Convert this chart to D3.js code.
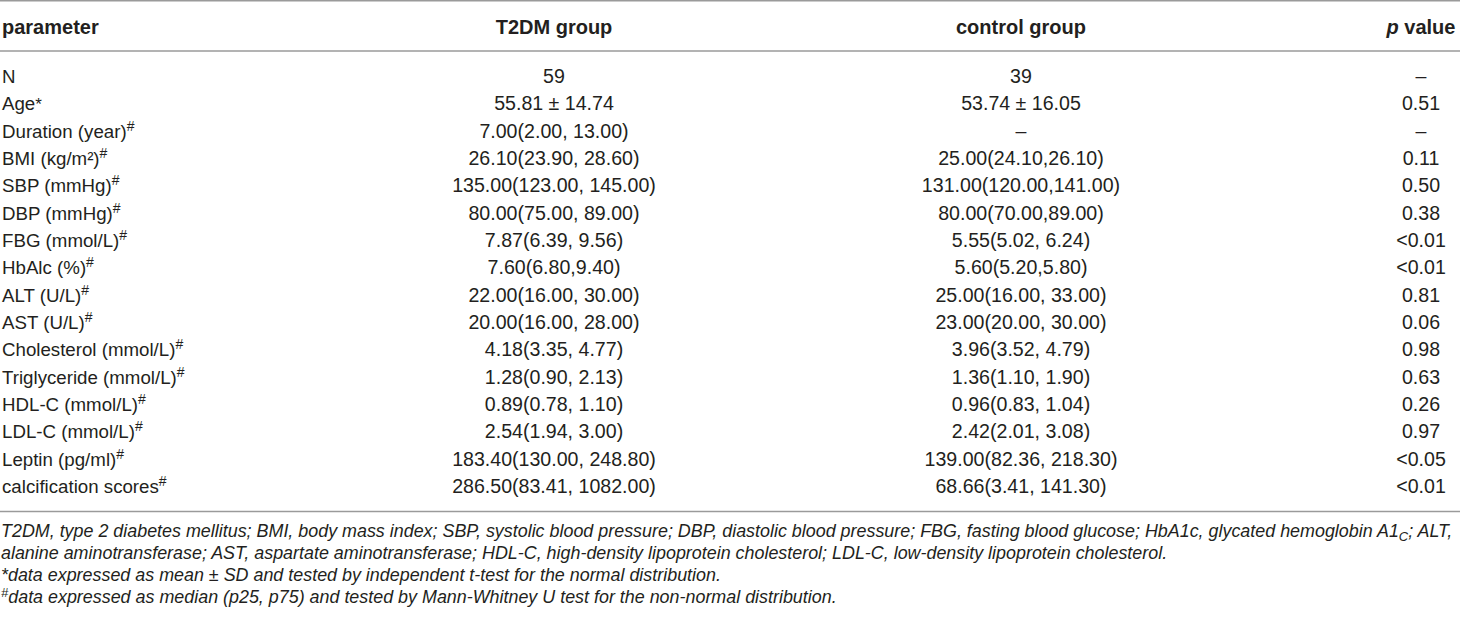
<!DOCTYPE html>
<html>
<head>
<meta charset="utf-8">
<script src="https://cdn.jsdelivr.net/npm/d3@7"></script>
<style>
  body { margin: 0; background: #fff; }
  text { font-family: "Liberation Sans", Arial, sans-serif; fill: #231f20; }
</style>
</head>
<body>
<script>
// table content
var headers = ["parameter", "T2DM group", "control group", "p value"];
var params = ["N", "Age", "Duration (year)", "BMI (kg/m\u00b2)", "SBP (mmHg)", "DBP (mmHg)",
  "FBG (mmol/L)", "HbAlc (%)", "ALT (U/L)", "AST (U/L)", "Cholesterol (mmol/L)",
  "Triglyceride (mmol/L)", "HDL-C (mmol/L)", "LDL-C (mmol/L)", "Leptin (pg/ml)", "calcification scores"];
var marks = ["", "*", "#", "#", "#", "#", "#", "#", "#", "#", "#", "#", "#", "#", "#", "#"];
var t2dm = ["59", "55.81 \u00b1 14.74", "7.00(2.00, 13.00)", "26.10(23.90, 28.60)", "135.00(123.00, 145.00)",
  "80.00(75.00, 89.00)", "7.87(6.39, 9.56)", "7.60(6.80,9.40)", "22.00(16.00, 30.00)", "20.00(16.00, 28.00)",
  "4.18(3.35, 4.77)", "1.28(0.90, 2.13)", "0.89(0.78, 1.10)", "2.54(1.94, 3.00)", "183.40(130.00, 248.80)",
  "286.50(83.41, 1082.00)"];
var control = ["39", "53.74 \u00b1 16.05", "\u2013", "25.00(24.10,26.10)", "131.00(120.00,141.00)",
  "80.00(70.00,89.00)", "5.55(5.02, 6.24)", "5.60(5.20,5.80)", "25.00(16.00, 33.00)", "23.00(20.00, 30.00)",
  "3.96(3.52, 4.79)", "1.36(1.10, 1.90)", "0.96(0.83, 1.04)", "2.42(2.01, 3.08)", "139.00(82.36, 218.30)",
  "68.66(3.41, 141.30)"];
var pvals = ["\u2013", "0.51", "\u2013", "0.11", "0.50", "0.38", "<0.01", "<0.01", "0.81", "0.06",
  "0.98", "0.63", "0.26", "0.97", "<0.05", "<0.01"];

var width = 1460, height = 620;
var svg = d3.select("body").append("svg")
    .attr("width", width)
    .attr("height", height);

// column centres, first column is left aligned
var colX = [2, 554, 1021, 1421];
var y = d3.scalePoint()
    .domain(d3.range(params.length))
    .range([83, 493]);

// rules
var rules = [0.75, 51, 511.5];
svg.append("g")
    .selectAll("line")
    .data(rules)
    .join("line")
    .attr("x1", 0)
    .attr("x2", width)
    .attr("y1", d => d)
    .attr("y2", d => d)
    .attr("stroke", "#9a9a9a")
    .attr("stroke-width", 1.5);

// header
var head = svg.append("g")
    .style("font-weight", "bold")
    .style("font-size", "20px");
head.selectAll("text")
    .data(headers)
    .join("text")
    .attr("x", (d, i) => colX[i])
    .attr("y", 34)
    .attr("text-anchor", (d, i) => i == 0 ? "start" : "middle")
    .each(function (d, i) {
        var t = d3.select(this);
        if (i == 3) {
            t.append("tspan").style("font-style", "italic").text("p");
            t.append("tspan").text(" value");
        } else t.text(d);
    });

// parameter column
var lab = svg.append("g")
    .style("font-size", "18.7px")
    .selectAll("text")
    .data(params)
    .join("text")
    .attr("x", colX[0])
    .attr("y", (d, i) => y(i));
lab.append("tspan").text(d => d);
lab.append("tspan")
    .attr("dy", (d, i) => marks[i] == "#" ? -7 : 0)
    .style("font-size", (d, i) => marks[i] == "#" ? "14px" : "17px")
    .text((d, i) => marks[i]);

// value columns
[t2dm, control, pvals].forEach(function (col, c) {
    svg.append("g")
        .style("font-size", "19.6px")
        .selectAll("text")
        .data(col)
        .join("text")
        .attr("x", colX[c + 1])
        .attr("y", (d, i) => y(i))
        .attr("text-anchor", "middle")
        .text(d => d);
});

// footnotes
var notes = svg.append("g")
    .style("font-size", "17.9px")
    .style("font-style", "italic");
var n1 = notes.append("text").attr("x", 1).attr("y", 537);
n1.append("tspan").text("T2DM, type 2 diabetes mellitus; BMI, body mass index; SBP, systolic blood pressure; DBP, diastolic blood pressure; FBG, fasting blood glucose; HbA1c, glycated hemoglobin A1");
n1.append("tspan").attr("dy", 4).style("font-size", "13px").text("C");
n1.append("tspan").attr("dy", -4).text("; ALT,");
notes.append("text").attr("x", 1).attr("y", 559)
    .text("alanine aminotransferase; AST, aspartate aminotransferase; HDL-C, high-density lipoprotein cholesterol; LDL-C, low-density lipoprotein cholesterol.");
notes.append("text").attr("x", 1).attr("y", 581)
    .text("*data expressed as mean \u00b1 SD and tested by independent t-test for the normal distribution.");
var n4 = notes.append("text").attr("x", 1).attr("y", 603);
n4.append("tspan").attr("dy", -6).style("font-size", "13px").text("#");
n4.append("tspan").attr("dy", 6).text("data expressed as median (p25, p75) and tested by Mann-Whitney U test for the non-normal distribution.");
</script>
</body>
</html>
